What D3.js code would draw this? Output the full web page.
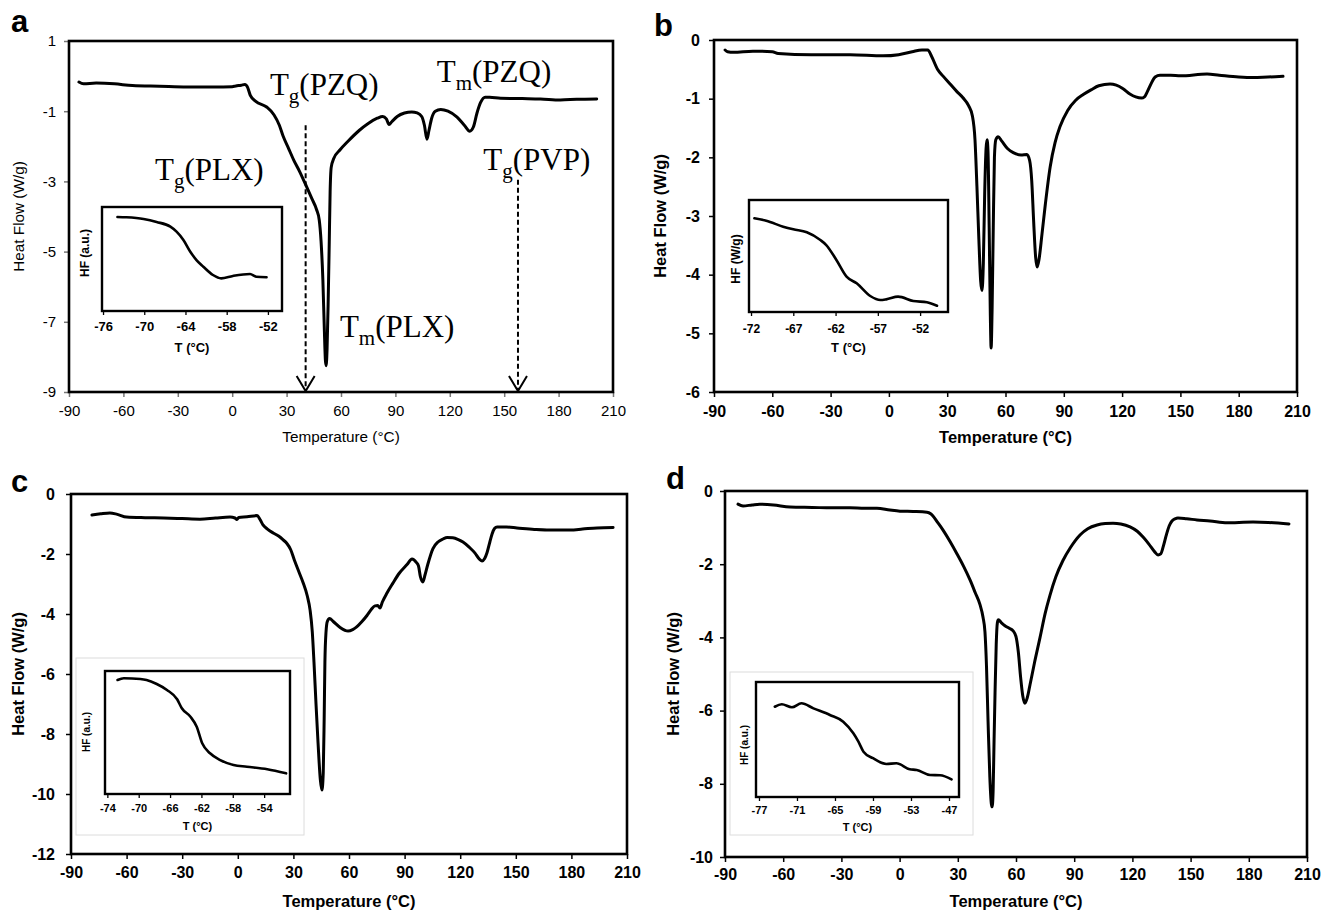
<!DOCTYPE html>
<html>
<head>
<meta charset="utf-8">
<script src="https://cdn.jsdelivr.net/npm/d3@7"></script>
<style>
  body { margin: 0; background: #fff; }
  svg { display: block; }
</style>
</head>
<body>
<svg id="fig" width="1322" height="910"></svg>
<script>
// ---------- DSC thermograms: temperature (°C) and heat flow (W/g) ----------
const tempTicks = [-90, -60, -30, 0, 30, 60, 90, 120, 150, 180, 210];

// (a)
const aTemp = [-84.5,-82,-75,-65,-55,-40,-25,-10,0,2,5,7,8.5,10,13,19,23,26,28,31,34,37,41,44,46.5,48,49,50,50.8,51.4,51.8,52.3,52.9,53.5,54,54.6,56,59.5,64,70,75,80,83,85,86.5,88,91,95,99,102,104.5,106,107.4,108.5,110,112,115,119,124,128,131,133,135,137,139.5,142,148,160,170,181,190,201];
const aHF   = [-0.17,-0.22,-0.2,-0.22,-0.27,-0.29,-0.31,-0.31,-0.3,-0.28,-0.26,-0.24,-0.32,-0.55,-0.72,-0.88,-1.1,-1.4,-1.7,-2.05,-2.4,-2.7,-3.15,-3.5,-3.8,-4.1,-4.7,-5.8,-7.2,-8.1,-8.25,-7.8,-6.5,-4.8,-3.3,-2.6,-2.35,-2.1,-1.85,-1.55,-1.35,-1.2,-1.15,-1.22,-1.38,-1.3,-1.15,-1.05,-1.02,-1.05,-1.15,-1.4,-1.8,-1.55,-1.2,-1.0,-0.95,-1.0,-1.17,-1.4,-1.57,-1.45,-1.05,-0.75,-0.6,-0.6,-0.63,-0.64,-0.65,-0.68,-0.66,-0.65];

// (b)
const bTemp = [-84.3,-83,-80,-70,-60,-57,-40,-20,-3,5,12,17,20,22,25,28,31.5,35,38,41,43,44.3,45.3,46.3,47.2,47.9,48.6,49.3,50,50.5,51,51.6,52.2,52.6,53.1,53.7,54.3,55,56.2,58,61,64,68,71,72.4,73.5,74.5,75.5,76.3,77.2,78.8,80.5,83,85.5,88,92,96,100,104,108,113.8,117,120.5,124,127,130,131.5,133,135,137,139.5,145,150,163.7,170,180,187.4,195,202.8];
const bHF   = [-0.17,-0.2,-0.21,-0.19,-0.2,-0.23,-0.25,-0.25,-0.27,-0.25,-0.2,-0.17,-0.17,-0.28,-0.5,-0.62,-0.75,-0.88,-0.98,-1.12,-1.3,-1.7,-2.5,-3.4,-4.1,-4.27,-3.8,-2.6,-1.85,-1.7,-1.9,-3.2,-4.7,-5.25,-4.6,-3.2,-2.0,-1.7,-1.65,-1.72,-1.85,-1.92,-1.96,-1.95,-2.05,-2.4,-3.1,-3.7,-3.87,-3.75,-3.3,-2.8,-2.16,-1.75,-1.48,-1.2,-1.03,-0.93,-0.85,-0.78,-0.75,-0.77,-0.83,-0.92,-0.97,-0.99,-0.97,-0.88,-0.74,-0.63,-0.6,-0.6,-0.61,-0.58,-0.6,-0.63,-0.64,-0.63,-0.62];

// (c)
const cTemp = [-78.7,-74,-69,-65,-60,-50,-40,-30,-20.4,-12,-4.2,-1.5,-0.5,0.5,5,10.4,12,13.6,16,19.1,22,24.5,26.5,28.5,30.5,33,35.2,37.5,39,40.2,41.1,42.2,43.3,44.5,45.4,46.1,46.6,47,47.6,48.3,49.5,51.5,55.2,59.5,62,64.3,67,69.7,72,74,75.5,76.7,78,80.5,83.7,87,91.3,94,96.3,97.5,98.5,99.9,101,102.5,105.3,108,110.7,113,116,119,121.5,125,128,130.5,131.8,133.2,134.5,136,137.2,138.5,139.9,145,150.6,160,166.8,179.3,186,193.8,202.5];
const cHF   = [-0.7,-0.66,-0.63,-0.68,-0.77,-0.79,-0.8,-0.82,-0.84,-0.8,-0.77,-0.8,-0.85,-0.78,-0.76,-0.72,-0.85,-1.03,-1.17,-1.3,-1.4,-1.53,-1.65,-1.85,-2.2,-2.6,-2.95,-3.4,-3.87,-4.6,-5.6,-7.0,-8.3,-9.5,-9.87,-9.3,-7.5,-5.6,-4.6,-4.25,-4.15,-4.25,-4.45,-4.57,-4.52,-4.42,-4.25,-4.05,-3.85,-3.73,-3.72,-3.8,-3.6,-3.3,-2.97,-2.65,-2.35,-2.17,-2.28,-2.4,-2.75,-2.93,-2.7,-2.35,-1.82,-1.6,-1.5,-1.45,-1.46,-1.52,-1.6,-1.78,-1.97,-2.18,-2.23,-2.15,-1.95,-1.6,-1.33,-1.15,-1.1,-1.1,-1.13,-1.18,-1.2,-1.2,-1.17,-1.13,-1.12];

// (d)
const dTemp = [-83.3,-80.7,-76,-72,-65,-56.5,-45,-35,-25.6,-18,-11.7,-5,0.2,7,14.1,16,17.2,19.5,22.4,26,29.6,33,36.3,39,41.4,43,44,44.8,45.6,46.5,47.3,47.7,48.2,48.7,49.2,49.8,50.4,50.9,52.5,54.3,56.5,58.5,60,61.2,62.4,63.5,64.6,65.8,67.2,69.5,72.4,75,77.5,80.5,84.2,88,93,97,101.8,106,110,114,118.8,122.5,125.5,128.5,131.6,133.2,134.6,136,137.5,139,140.4,142,143.5,148,153.3,160,168.8,175,182.2,190,200.7];
const dHF   = [-0.36,-0.41,-0.38,-0.36,-0.38,-0.44,-0.45,-0.46,-0.46,-0.47,-0.47,-0.52,-0.55,-0.56,-0.58,-0.62,-0.68,-0.85,-1.07,-1.38,-1.72,-2.06,-2.43,-2.78,-3.1,-3.45,-3.85,-4.8,-6.3,-7.8,-8.55,-8.63,-8.2,-6.8,-5.5,-4.2,-3.6,-3.52,-3.6,-3.68,-3.75,-3.82,-3.98,-4.4,-5.1,-5.6,-5.8,-5.65,-5.3,-4.7,-4.0,-3.35,-2.85,-2.35,-1.9,-1.55,-1.2,-1.03,-0.93,-0.89,-0.88,-0.9,-0.98,-1.1,-1.26,-1.45,-1.67,-1.75,-1.72,-1.5,-1.2,-0.95,-0.82,-0.76,-0.74,-0.76,-0.79,-0.82,-0.87,-0.86,-0.85,-0.86,-0.9];

// Glass-transition insets (heat flow in arbitrary units)
const aInsetTicks = [-76, -70, -64, -58, -52];
const aInsetTemp = [-73.9,-72.6,-70.1,-68.2,-66.2,-65.3,-64.3,-63.3,-62.4,-61.4,-60,-58.8,-57.1,-54.6,-53.7,-52.2];
const aInsetHF   = [9.04,9.01,8.85,8.56,8.11,7.63,6.83,5.7,4.9,4.26,3.46,3.14,3.37,3.56,3.3,3.24];

const bInsetTicks = [-72, -67, -62, -57, -52];
const bInsetTemp = [-71.6,-70.2,-68.2,-67,-65.4,-63.8,-63.1,-61.9,-60.7,-59.5,-57.9,-56.7,-56,-54.6,-52.8,-51.2,-50];
const bInsetHF   = [8.37,8.15,7.62,7.38,7.12,6.43,5.98,4.64,3.15,2.56,1.43,1.07,1.13,1.37,0.98,0.87,0.56];

const cInsetTicks = [-74, -70, -66, -62, -58, -54];
const cInsetTemp = [-72.7,-71.9,-69.8,-69,-67.7,-66.4,-65.1,-64.5,-63.4,-62.6,-61.9,-60.9,-59.6,-57.9,-56.2,-53.6,-51.2];
const cInsetHF   = [9.27,9.41,9.35,9.27,8.94,8.46,7.7,6.97,6.28,5.47,4.12,3.31,2.76,2.36,2.22,2.01,1.68];

const dInsetTicks = [-77, -71, -65, -59, -53, -47];
const dInsetTemp = [-74.5,-73.4,-71.8,-70.3,-68.4,-65.8,-63.7,-62.1,-61.3,-60.5,-59,-56.9,-55.3,-53.2,-52.1,-50,-48.4,-46.6];
const dInsetHF   = [7.85,8.06,7.8,8.15,7.71,7.13,6.55,5.54,4.81,3.94,3.37,2.87,2.93,2.41,2.35,1.91,1.89,1.54];

// Transition labels for (a)
const transSymbols = ["g", "g", "m", "m", "g"];
const transNames   = ["PZQ", "PLX", "PZQ", "PLX", "PVP"];
// Glass transitions marked with dashed arrows (°C)
const arrowTg = [40.5, 157.6];

// ---------- drawing ----------
const svg = d3.select("#fig");
const SANS = "'Liberation Sans', Arial, sans-serif";
const SERIF = "'Liberation Serif', 'Times New Roman', serif";
const fmt = d => String(d);

function styleAxis(sel, size, weight, tickW, tickColor) {
  sel.select(".domain").remove();
  sel.selectAll(".tick line").attr("stroke", tickColor || "#000").attr("stroke-width", tickW);
  sel.selectAll(".tick text")
    .attr("fill", "#000")
    .attr("font-family", SANS)
    .attr("font-size", size)
    .attr("font-weight", weight);
}

function drawPanel(p) {
  const x = d3.scaleLinear().domain([-90, 210]).range([p.left, p.right]);
  const y = d3.scaleLinear().domain(p.yDomain).range([p.bottom, p.top]);
  const g = svg.append("g");
  const w = p.bold ? "bold" : "normal";

  const xa = g.append("g").attr("transform", `translate(0,${p.bottom})`)
    .call(d3.axisBottom(x).tickValues(tempTicks).tickSize(5).tickPadding(p.xPad).tickFormat(fmt));
  styleAxis(xa, p.font, w, 1.5, p.tickColor);

  const ya = g.append("g").attr("transform", `translate(${p.left},0)`)
    .call(d3.axisLeft(y).tickValues(p.yTicks).tickSize(5).tickPadding(p.yPad).tickFormat(fmt));
  styleAxis(ya, p.font, w, 1.5, p.tickColor);

  // curve
  const pts = p.temp.map((t, i) => [t, p.hf[i]]);
  g.append("path")
    .datum(pts)
    .attr("fill", "none")
    .attr("stroke", "#000")
    .attr("stroke-width", 3)
    .attr("stroke-linejoin", "round")
    .attr("stroke-linecap", "round")
    .attr("d", d3.line().x(d => x(d[0])).y(d => y(d[1])).curve(d3.curveMonotoneX));

  // plot frame
  g.append("rect")
    .attr("x", p.left).attr("y", p.top)
    .attr("width", p.right - p.left).attr("height", p.bottom - p.top)
    .attr("fill", "none").attr("stroke", "#000").attr("stroke-width", 2.6);

  // axis titles
  g.append("text")
    .attr("x", (p.left + p.right) / 2).attr("y", p.xTitleY)
    .attr("text-anchor", "middle")
    .attr("font-family", SANS).attr("font-size", p.titleFont).attr("font-weight", w)
    .text("Temperature (°C)");
  g.append("text")
    .attr("transform", `translate(${p.yTitleX},${(p.top + p.bottom) / 2}) rotate(-90)`)
    .attr("text-anchor", "middle").attr("dominant-baseline", "central")
    .attr("font-family", SANS).attr("font-size", p.titleFont).attr("font-weight", w)
    .text("Heat Flow (W/g)");

  // panel letter
  svg.append("text")
    .attr("x", p.letterX).attr("y", p.letterY)
    .attr("font-family", SANS).attr("font-size", 31).attr("font-weight", "bold")
    .text(p.letter);

  return { x, y, g };
}

function drawInset(q) {
  const g = svg.append("g");
  if (q.outer) {
    g.append("rect")
      .attr("x", q.outer[0]).attr("y", q.outer[1])
      .attr("width", q.outer[2] - q.outer[0]).attr("height", q.outer[3] - q.outer[1])
      .attr("fill", "#fff").attr("stroke", "#dcdcdc").attr("stroke-width", 1);
  } else {
    g.append("rect")
      .attr("x", q.left).attr("y", q.top)
      .attr("width", q.right - q.left).attr("height", q.bottom - q.top)
      .attr("fill", "#fff");
  }
  const x = d3.scaleLinear().domain(q.xDomain).range([q.left, q.right]);
  const y = d3.scaleLinear().domain([0, 10]).range([q.bottom, q.top]);

  const xa = g.append("g").attr("transform", `translate(0,${q.bottom})`)
    .call(d3.axisBottom(x).tickValues(q.ticks).tickSize(4).tickPadding(q.pad).tickFormat(fmt));
  styleAxis(xa, q.font, "bold", 1.3);

  const pts = q.temp.map((t, i) => [t, q.hf[i]]);
  g.append("path")
    .datum(pts)
    .attr("fill", "none").attr("stroke", "#000").attr("stroke-width", 2.6)
    .attr("stroke-linejoin", "round").attr("stroke-linecap", "round")
    .attr("d", d3.line().x(d => x(d[0])).y(d => y(d[1])).curve(d3.curveMonotoneX));

  g.append("rect")
    .attr("x", q.left).attr("y", q.top)
    .attr("width", q.right - q.left).attr("height", q.bottom - q.top)
    .attr("fill", "none").attr("stroke", "#000").attr("stroke-width", 2.4);

  g.append("text")
    .attr("x", (q.left + q.right) / 2).attr("y", q.tTitleY)
    .attr("text-anchor", "middle").attr("dominant-baseline", "central")
    .attr("font-family", SANS).attr("font-size", q.titleFont).attr("font-weight", "bold")
    .text("T (°C)");
  g.append("text")
    .attr("transform", `translate(${q.hfX},${q.hfY}) rotate(-90)`)
    .attr("text-anchor", "middle").attr("dominant-baseline", "central")
    .attr("font-family", SANS).attr("font-size", q.hfFont).attr("font-weight", "bold")
    .text(q.hfLabel);
}

// ----- panel a -----
const A = drawPanel({
  letter: "a", letterX: 11, letterY: 32,
  left: 69, right: 613, top: 41, bottom: 392,
  yDomain: [-9, 1], yTicks: [1, -1, -3, -5, -7, -9],
  temp: aTemp, hf: aHF, bold: false, font: 15, titleFont: 15.3, tickColor: "#777",
  xPad: 8, yPad: 8, xTitleY: 442, yTitleX: 18
});
drawInset({
  left: 102, right: 282, top: 207, bottom: 311,
  xDomain: [-76.15, -49.95], ticks: aInsetTicks,
  temp: aInsetTemp, hf: aInsetHF,
  font: 13, pad: 7, titleFont: 13, tTitleY: 347,
  hfFont: 12, hfX: 85, hfY: 253, hfLabel: "HF (a.u.)"
});

// dashed arrows marking glass transitions
const arrowTop = [-1.4, -2.95];
arrowTg.forEach((t, i) => {
  const xx = A.x(t), yb = A.y(-9), yt = A.y(arrowTop[i]);
  A.g.append("line")
    .attr("x1", xx).attr("x2", xx).attr("y1", yt).attr("y2", yb - 2)
    .attr("stroke", "#000").attr("stroke-width", 2).attr("stroke-dasharray", "5,3");
  A.g.append("path")
    .attr("d", `M${xx - 9},${yb - 16} L${xx},${yb - 1} L${xx + 9},${yb - 16}`)
    .attr("fill", "none").attr("stroke", "#000").attr("stroke-width", 2);
});

// transition labels
const labelAnchors = [[20.8, -0.54], [-42.6, -2.96], [112.8, -0.17], [59.4, -7.43], [138.5, -2.68]];
labelAnchors.forEach((pos, i) => {
  const t = A.g.append("text")
    .attr("x", A.x(pos[0])).attr("y", A.y(pos[1]))
    .attr("font-family", SERIF).attr("font-size", 31).attr("fill", "#000");
  t.append("tspan").text("T");
  t.append("tspan").attr("font-size", 21).attr("dy", 8).text(transSymbols[i]);
  t.append("tspan").attr("dy", -8).text("(" + transNames[i] + ")");
});

// ----- panel b -----
drawPanel({
  letter: "b", letterX: 654, letterY: 36,
  left: 714, right: 1297, top: 40, bottom: 392,
  yDomain: [-6, 0], yTicks: [0, -1, -2, -3, -4, -5, -6],
  temp: bTemp, hf: bHF, bold: true, font: 16, titleFont: 16.5,
  xPad: 9, yPad: 9, xTitleY: 443, yTitleX: 660
});
drawInset({
  left: 749, right: 948, top: 200, bottom: 312,
  xDomain: [-72.24, -48.7], ticks: bInsetTicks,
  temp: bInsetTemp, hf: bInsetHF,
  font: 12, pad: 8, titleFont: 13, tTitleY: 347,
  hfFont: 12, hfX: 736, hfY: 259, hfLabel: "HF (W/g)"
});

// ----- panel c -----
drawPanel({
  letter: "c", letterX: 11, letterY: 492,
  left: 71, right: 627, top: 494, bottom: 854,
  yDomain: [-12, 0], yTicks: [0, -2, -4, -6, -8, -10, -12],
  temp: cTemp, hf: cHF, bold: true, font: 16, titleFont: 16.5,
  xPad: 8, yPad: 11, xTitleY: 907, yTitleX: 18
});
drawInset({
  outer: [76, 658, 304, 835],
  left: 105, right: 290, top: 671, bottom: 794,
  xDomain: [-74.3, -50.7], ticks: cInsetTicks,
  temp: cInsetTemp, hf: cInsetHF,
  font: 11, pad: 6, titleFont: 11, tTitleY: 826,
  hfFont: 10, hfX: 86, hfY: 732, hfLabel: "HF (a.u.)"
});

// ----- panel d -----
drawPanel({
  letter: "d", letterX: 666, letterY: 489,
  left: 725, right: 1307, top: 491, bottom: 857,
  yDomain: [-10, 0], yTicks: [0, -2, -4, -6, -8, -10],
  temp: dTemp, hf: dHF, bold: true, font: 16, titleFont: 16.5,
  xPad: 7, yPad: 7, xTitleY: 907, yTitleX: 673
});
drawInset({
  outer: [730, 672, 973, 835],
  left: 756, right: 959, top: 682, bottom: 797,
  xDomain: [-77.47, -45.42], ticks: dInsetTicks,
  temp: dInsetTemp, hf: dInsetHF,
  font: 11, pad: 5, titleFont: 11, tTitleY: 827,
  hfFont: 10, hfX: 744, hfY: 745, hfLabel: "HF (a.u.)"
});
</script>
</body>
</html>
